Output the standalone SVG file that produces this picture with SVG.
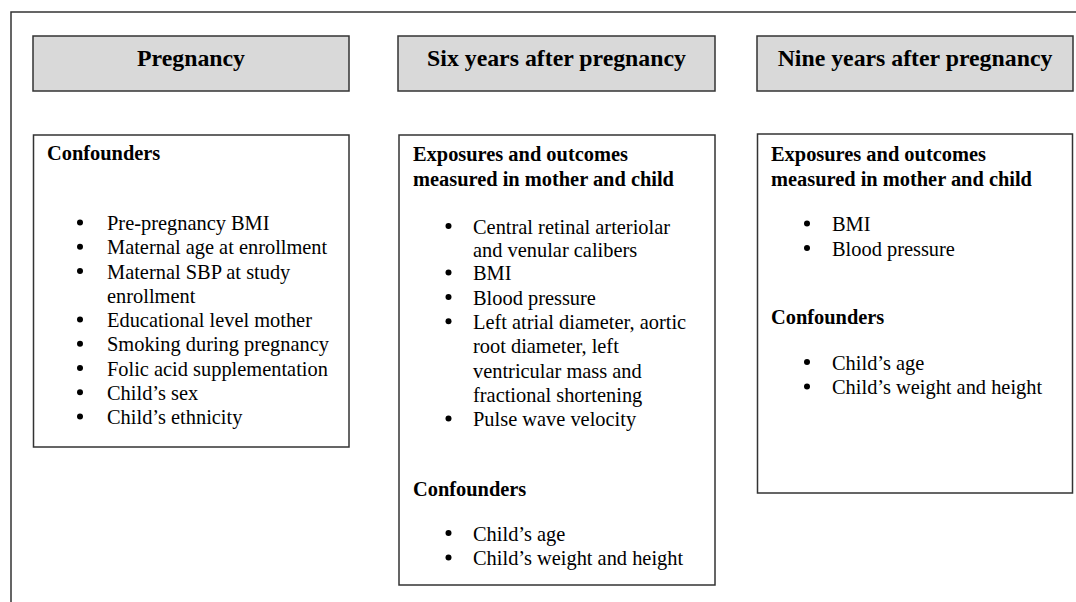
<svg xmlns="http://www.w3.org/2000/svg" width="1076" height="602" viewBox="0 0 1076 602">
<style>
.frame{fill:none;stroke:#333;stroke-width:1.5}
.hdr{fill:#d9d9d9;stroke:#333;stroke-width:1.5}
.box{fill:#fff;stroke:#333;stroke-width:1.5}
.ht{font-family:"Liberation Serif","Times New Roman",serif;font-weight:bold;font-size:23.8px;fill:#000;text-anchor:middle}
.h{font-family:"Liberation Serif","Times New Roman",serif;font-weight:bold;font-size:20.4px;fill:#000}
.t{font-family:"Liberation Serif","Times New Roman",serif;font-size:20.4px;fill:#000}
.b{fill:#000}
</style>
<rect x="0" y="0" width="1076" height="602" fill="#fff"/>
<path class="frame" d="M11,602 V12 H1076"/>
<g id="connectors"></g>
<g id="hdr-pregnancy">
<rect class="hdr" x="33" y="36" width="316" height="55"/>
<text class="ht" x="191" y="66">Pregnancy</text>
</g>
<g id="hdr-six">
<rect class="hdr" x="398" y="36" width="317" height="55"/>
<text class="ht" x="556.5" y="66">Six years after pregnancy</text>
</g>
<g id="hdr-nine">
<rect class="hdr" x="757" y="36" width="316" height="55"/>
<text class="ht" x="915" y="66">Nine years after pregnancy</text>
</g>
<g id="box-pregnancy">
<rect class="box" x="33.5" y="135" width="315.5" height="312"/>
<text class="h" x="47" y="160">Confounders</text>
<g class="b">
<circle cx="80" cy="222.5" r="3"/><circle cx="80" cy="246.7" r="3"/><circle cx="80" cy="271" r="3"/>
<circle cx="80" cy="319.5" r="3"/><circle cx="80" cy="343.7" r="3"/><circle cx="80" cy="368" r="3"/>
<circle cx="80" cy="392.2" r="3"/><circle cx="80" cy="416.5" r="3"/>
</g>
<text class="t" x="107" y="230">Pre-pregnancy BMI</text>
<text class="t" x="107" y="254.2">Maternal age at enrollment</text>
<text class="t" x="107" y="278.5">Maternal SBP at study</text>
<text class="t" x="107" y="302.7">enrollment</text>
<text class="t" x="107" y="327">Educational level mother</text>
<text class="t" x="107" y="351.2">Smoking during pregnancy</text>
<text class="t" x="107" y="375.5">Folic acid supplementation</text>
<text class="t" x="107" y="399.7">Child’s sex</text>
<text class="t" x="107" y="424">Child’s ethnicity</text>
</g>
<g id="box-six">
<rect class="box" x="399" y="135" width="316" height="450"/>
<text class="h" x="413" y="161">Exposures and outcomes</text>
<text class="h" x="413" y="185.5">measured in mother and child</text>
<g class="b">
<circle cx="448.5" cy="226" r="3"/><circle cx="448.5" cy="272.5" r="3"/><circle cx="448.5" cy="297" r="3"/>
<circle cx="448.5" cy="321.3" r="3"/><circle cx="448.5" cy="418.5" r="3"/>
<circle cx="448.5" cy="533" r="3"/><circle cx="448.5" cy="557.5" r="3"/>
</g>
<text class="t" x="473" y="233.5">Central retinal arteriolar</text>
<text class="t" x="473" y="257">and venular calibers</text>
<text class="t" x="473" y="280">BMI</text>
<text class="t" x="473" y="304.5">Blood pressure</text>
<text class="t" x="473" y="329">Left atrial diameter, aortic</text>
<text class="t" x="473" y="353.3">root diameter, left</text>
<text class="t" x="473" y="377.6">ventricular mass and</text>
<text class="t" x="473" y="402">fractional shortening</text>
<text class="t" x="473" y="426">Pulse wave velocity</text>
<text class="h" x="413" y="496">Confounders</text>
<text class="t" x="473" y="540.5">Child’s age</text>
<text class="t" x="473" y="565">Child’s weight and height</text>
</g>
<g id="box-nine">
<rect class="box" x="757.5" y="134" width="315" height="359"/>
<text class="h" x="771" y="160.5">Exposures and outcomes</text>
<text class="h" x="771" y="185.5">measured in mother and child</text>
<g class="b">
<circle cx="807" cy="223.5" r="3"/><circle cx="807" cy="248" r="3"/>
<circle cx="807" cy="362" r="3"/><circle cx="807" cy="386.5" r="3"/>
</g>
<text class="t" x="832" y="231">BMI</text>
<text class="t" x="832" y="255.5">Blood pressure</text>
<text class="h" x="771" y="323.5">Confounders</text>
<text class="t" x="832" y="369.5">Child’s age</text>
<text class="t" x="832" y="394">Child’s weight and height</text>
</g>
</svg>
